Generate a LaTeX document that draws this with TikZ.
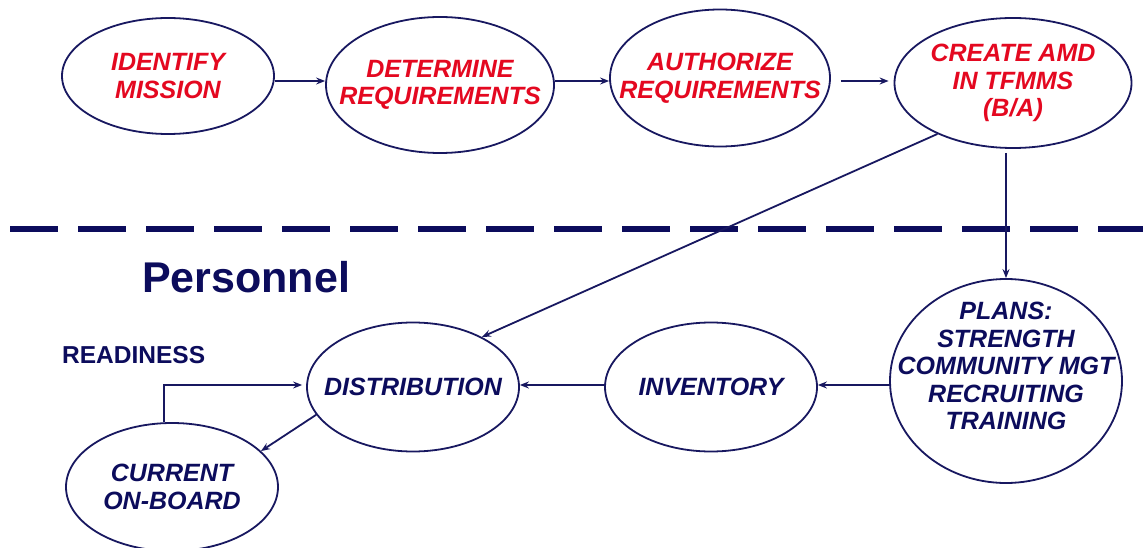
\documentclass[tikz,border=0pt]{standalone}
\usepackage{fontspec}
\setmainfont{Liberation Sans}
\usetikzlibrary{shapes.geometric,arrows.meta,calc}
\definecolor{dred}{RGB}{228,8,32}
\definecolor{navy}{RGB}{12,12,92}
\definecolor{lnavy}{RGB}{24,24,96}
\tikzset{
  ell/.style={draw=lnavy, line width=1.8pt, ellipse, inner sep=0pt, fill=white},
  redlbl/.style={text=dred, font=\fontsize{25}{27.5}\selectfont\bfseries\itshape, align=center, inner sep=0pt},
  navylbl/.style={text=navy, font=\fontsize{25}{27.5}\selectfont\bfseries\itshape, align=center, inner sep=0pt},
  arr/.style={draw=lnavy, line width=1.8pt, -{Stealth[length=9pt,width=7pt,inset=3pt]}},
  divider/.style={draw=navy, line width=6pt, dash pattern=on 48pt off 20pt},
}
\begin{document}
\begin{tikzpicture}[x=1pt,y=-1pt]
\useasboundingbox[fill=white] (0,0) rectangle (1143,548);

% divider
\coordinate (dl) at (10,229);
\coordinate (dr) at (1150,229);
\draw[divider] (dl) -- (dr);

% top row
\node[ell, minimum width=212pt, minimum height=116pt,
      label={[redlbl]center:IDENTIFY\\MISSION}] (identify) at (168,76) {};
\node[ell, minimum width=228pt, minimum height=136pt,
      label={[redlbl]center:DETERMINE\\REQUIREMENTS}] (determine) at (440,85) {};
\node[ell, minimum width=220pt, minimum height=137pt,
      label={[redlbl]center:AUTHORIZE\\REQUIREMENTS}] (authorize) at (720,78) {};
\node[ell, minimum width=237pt, minimum height=130pt,
      label={[redlbl]center:CREATE AMD\\IN TFMMS\\(B/A)}] (create) at (1013,83) {};

% bottom row
\node[ell, minimum width=232pt, minimum height=204pt,
      label={[navylbl,yshift=15pt]center:PLANS:\\STRENGTH\\COMMUNITY MGT\\RECRUITING\\TRAINING}] (plans) at (1006,381) {};
\node[ell, minimum width=212pt, minimum height=129pt,
      label={[navylbl]center:INVENTORY}] (inventory) at (711,387) {};
\node[ell, minimum width=212pt, minimum height=129pt,
      label={[navylbl]center:DISTRIBUTION}] (distribution) at (413,387) {};
\node[ell, minimum width=212pt, minimum height=128pt,
      label={[navylbl]center:CURRENT\\ON-BOARD}] (current) at (172,487) {};

% texts
\node[anchor=base west, inner sep=0pt, text=navy, font=\fontsize{43}{48}\selectfont\bfseries] (personnel) at (142,292) {Personnel};
\node[anchor=base west, inner sep=0pt, text=navy, font=\fontsize{24.5}{28}\selectfont\bfseries] (readiness) at (62,363) {READINESS};

% connectors
\draw[arr] ([yshift=-5pt]identify.east) -- ([yshift=4pt]determine.west);
\draw[arr] ([yshift=4pt]determine.east) -- ([yshift=-3pt]authorize.west);
\draw[arr, shorten <=10pt, shorten >=5pt] ([yshift=-3pt]authorize.east) -- ([yshift=2pt]create.west);
\draw[arr] (create.214) -- (distribution.36);
\draw[arr, shorten <=4pt] (plans.north |- create.south) -- (plans.north);
\draw[arr] ([yshift=-4pt]plans.west) -- ([yshift=2pt]inventory.east);
\draw[arr] ([yshift=2pt]inventory.west) -- ([yshift=2pt]distribution.east);
\draw[arr] (distribution.196) -- (current.22);
\draw[arr, shorten >=4pt] ([xshift=-8pt]current.north) |- ([yshift=2pt]distribution.west);
\end{tikzpicture}
\end{document}
